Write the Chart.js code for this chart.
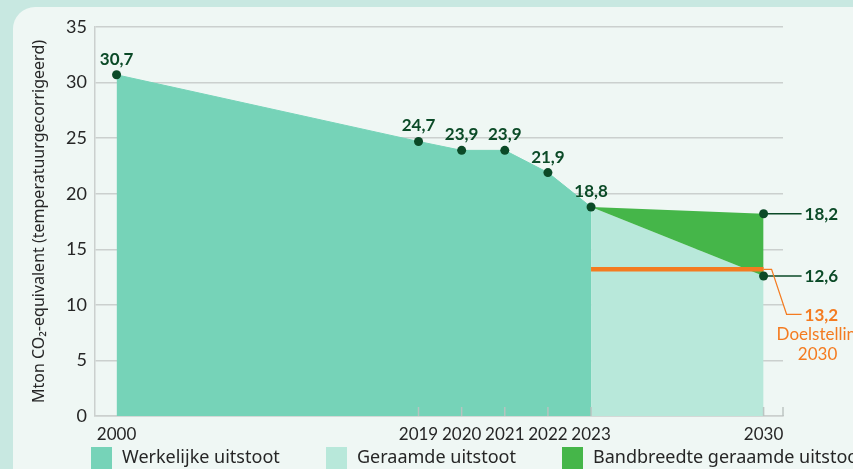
<!DOCTYPE html>
<html>
<head>
<meta charset="utf-8">
<script src="https://cdn.jsdelivr.net/npm/chart.js@4.4.0/dist/chart.umd.min.js"></script>
<style>
html,body{margin:0;padding:0;width:853px;height:469px;overflow:hidden;background:#c8e8e1;}
#panel{position:absolute;left:13px;top:7px;width:900px;height:520px;background:#eff7f4;border-radius:22px;}
#chart{position:absolute;left:0;top:0;}
</style>
</head>
<body>
<div id="panel"></div>
<canvas id="chart" width="853" height="469"></canvas>
<script>

// ----------------------------------------------------------
// Data
// ----------------------------------------------------------

const years = [2000, 2019, 2020, 2021, 2022, 2023, 2030];
// horizontal slot of each year on the (non-linear) time axis
const yearSlots = [0, 7, 8, 9, 10, 11, 15];

const actualYears = [2000, 2019, 2020, 2021, 2022, 2023];
const actualValues = [30.7, 24.7, 23.9, 23.9, 21.9, 18.8];

const projYears = [2023, 2030];
const projLow = [18.8, 12.6];
const projHigh = [18.8, 18.2];

const targetYears = [2023, 2030];
const targetValues = [13.2, 13.2];

const yTicks = [0, 5, 10, 15, 20, 25, 30, 35];

const legendLabels = [
    "Werkelijke uitstoot",
    "Geraamde uitstoot",
    "Bandbreedte geraamde uitstoot"
];

const targetLabel = ["Doelstelling", "2030"];
const yTitle = "Mton CO\u2082-equivalent (temperatuurgecorrigeerd)";

// ----------------------------------------------------------
// Colours / helpers
// ----------------------------------------------------------

const FONT = "Lato";
const FONT_WIDE = "Noto Sans";
const C_ACTUAL = "#76d3b8";
const C_PROJ = "#b8e8da";
const C_BAND = "#45b649";
const C_TARGET = "#f47b20";
const C_DARK = "#0b4a27";
const C_TEXT = "#262626";
const C_GRID = "#cbd0ce";

function slotOf(year){
    return yearSlots[years.indexOf(year)];
}

function toPoints(ys, vs){
    return ys.map((yr, i) => ({x: slotOf(yr), y: vs[i]}));
}

function fmt(v){
    return v.toFixed(1).replace(".", ",");
}

// ----------------------------------------------------------
// Plugins
// ----------------------------------------------------------

const insideTicks = {
    id: "insideTicks",
    afterDatasetsDraw(chart){
        const ctx = chart.ctx;
        const xs = chart.scales.x;
        const bottom = chart.chartArea.bottom;
        const marks = yearSlots.slice(1).map(v => xs.getPixelForValue(v));
        marks.push(chart.chartArea.right);
        ctx.save();
        ctx.strokeStyle = "rgba(185,195,192,0.95)";
        ctx.lineWidth = 1.5;
        marks.forEach(x => {
            ctx.beginPath();
            ctx.moveTo(x, bottom);
            ctx.lineTo(x, bottom - 9);
            ctx.stroke();
        });
        ctx.restore();
    }
};

const valueLabels = {
    id: "valueLabels",
    afterDatasetsDraw(chart){
        const ctx = chart.ctx;
        ctx.save();
        ctx.font = "bold 17px " + FONT;
        ctx.fillStyle = C_DARK;
        ctx.textAlign = "center";
        ctx.textBaseline = "bottom";

        // actual emissions, labels above the dots
        chart.getDatasetMeta(0).data.forEach((pt, i) => {
            ctx.fillText(fmt(actualValues[i]), pt.x, pt.y - 7);
        });

        // 2030 projections, labels to the right with leader lines
        const hi = chart.getDatasetMeta(2).data[1];
        const lo = chart.getDatasetMeta(1).data[1];
        ctx.strokeStyle = C_DARK;
        ctx.lineWidth = 1.5;
        ctx.textAlign = "left";
        ctx.textBaseline = "middle";
        [[hi, projHigh[1]], [lo, projLow[1]]].forEach(([pt, v]) => {
            ctx.beginPath();
            ctx.moveTo(pt.x, pt.y);
            ctx.lineTo(pt.x + 38, pt.y);
            ctx.stroke();
            ctx.fillText(fmt(v), pt.x + 41, pt.y + 1);
        });

        // target annotation
        const tg = chart.getDatasetMeta(3).data[1];
        const ty = tg.y + 45;
        ctx.strokeStyle = C_TARGET;
        ctx.lineWidth = 1.2;
        ctx.beginPath();
        ctx.moveTo(tg.x, tg.y);
        ctx.lineTo(tg.x + 8, tg.y);
        ctx.lineTo(tg.x + 23, ty);
        ctx.lineTo(tg.x + 38, ty);
        ctx.stroke();
        ctx.fillStyle = C_TARGET;
        ctx.fillText(fmt(targetValues[1]), tg.x + 41, ty + 1);
        ctx.font = "17px " + FONT;
        ctx.fillText(targetLabel[0], tg.x + 13, ty + 20);
        ctx.textAlign = "center";
        ctx.fillText(targetLabel[1], tg.x + 54, ty + 40);
        ctx.restore();
    }
};

const bottomLegend = {
    id: "bottomLegend",
    afterDraw(chart){
        const ctx = chart.ctx;
        const colors = [C_ACTUAL, C_PROJ, C_BAND];
        const boxX = [91, 326, 562];
        ctx.save();
        ctx.font = "18px '" + FONT_WIDE + "'";
        ctx.textBaseline = "middle";
        ctx.textAlign = "left";
        legendLabels.forEach((lab, i) => {
            ctx.fillStyle = colors[i];
            ctx.fillRect(boxX[i], 447, 21, 24);
            ctx.fillStyle = C_TEXT;
            ctx.fillText(lab, boxX[i] + 31, 458);
        });
        ctx.restore();
    }
};

// ----------------------------------------------------------
// Chart
// ----------------------------------------------------------

const ctx = document.getElementById("chart").getContext("2d");

new Chart(ctx, {
    type: "line",
    data: {
        datasets: [
            {
                label: legendLabels[0],
                data: toPoints(actualYears, actualValues),
                fill: "origin",
                backgroundColor: C_ACTUAL,
                borderColor: C_ACTUAL,
                borderWidth: 1,
                pointRadius: 4.5,
                pointBackgroundColor: C_DARK,
                pointBorderWidth: 0,
                order: 1
            },
            {
                label: legendLabels[1],
                data: toPoints(projYears, projLow),
                fill: "origin",
                backgroundColor: C_PROJ,
                borderColor: "rgba(0,0,0,0)",
                borderWidth: 1,
                pointRadius: [0, 4.5],
                pointBackgroundColor: C_DARK,
                pointBorderWidth: 0,
                order: 3
            },
            {
                label: legendLabels[2],
                data: toPoints(projYears, projHigh),
                fill: "-1",
                backgroundColor: C_BAND,
                borderColor: "rgba(0,0,0,0)",
                borderWidth: 1,
                pointRadius: [0, 4.5],
                pointBackgroundColor: C_DARK,
                pointBorderWidth: 0,
                order: 2
            },
            {
                label: "Doelstelling 2030",
                data: toPoints(targetYears, targetValues),
                fill: false,
                borderColor: C_TARGET,
                borderWidth: 4.5,
                borderCapStyle: "butt",
                pointRadius: 0,
                order: 5
            }
        ]
    },
    options: {
        responsive: false,
        animation: false,
        layout: {
            padding: {left: 0, top: 27, right: 70, bottom: 0}
        },
        plugins: {
            legend: {display: false},
            tooltip: {enabled: false},
            filler: {drawTime: "beforeDatasetsDraw"}
        },
        scales: {
            x: {
                type: "linear",
                min: -0.5,
                max: 15.45,
                afterFit(s){ s.height = 53; },
                afterBuildTicks(s){ s.ticks = yearSlots.map(v => ({value: v})); },
                grid: {display: false},
                border: {display: true, color: C_GRID, width: 1.5},
                ticks: {
                    autoSkip: false,
                    maxRotation: 0,
                    padding: 0,
                    color: C_TEXT,
                    font: {family: FONT, size: 17},
                    callback: v => years[yearSlots.indexOf(v)]
                }
            },
            y: {
                min: 0,
                max: 35,
                afterFit(s){ s.width = 95; },
                afterBuildTicks(s){ s.ticks = yTicks.map(v => ({value: v})); },
                grid: {color: C_GRID, lineWidth: 1.5, drawTicks: false},
                border: {display: true, color: C_GRID, width: 1.5},
                ticks: {
                    padding: 8,
                    color: C_TEXT,
                    font: {family: FONT, size: 18}
                },
                title: {
                    display: true,
                    text: yTitle,
                    color: C_TEXT,
                    font: {family: FONT_WIDE, size: 16},
                    padding: {top: 30, bottom: 0}
                }
            }
        }
    },
    plugins: [insideTicks, valueLabels, bottomLegend]
});

</script>
</body>
</html>
